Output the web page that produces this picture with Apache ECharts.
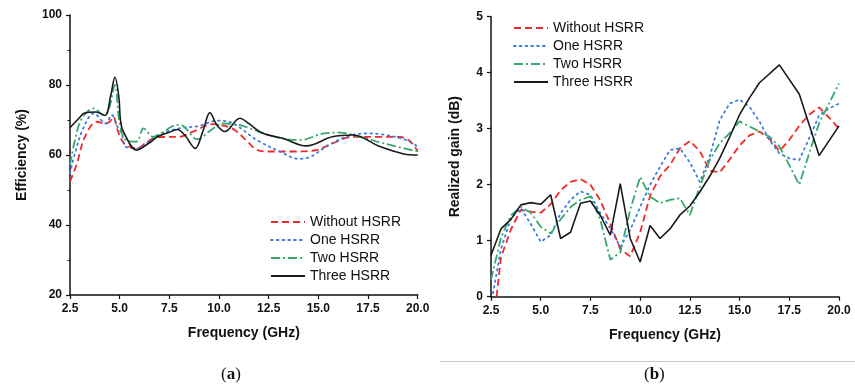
<!DOCTYPE html>
<html>
<head>
<meta charset="utf-8">
<script src="https://cdn.jsdelivr.net/npm/echarts@6/dist/echarts.min.js"></script>
<style>html,body{margin:0;padding:0;background:#fff}#c{width:855px;height:392px}</style>
</head>
<body>
<div id="c"></div>
<script>
// ---------- data ----------
const seriesNames = ['Without HSRR', 'One HSRR', 'Two HSRR', 'Three HSRR'];
const xTicks = [2.5, 5.0, 7.5, 10.0, 12.5, 15.0, 17.5, 20.0];

// (a) Efficiency (%) vs frequency (GHz)
const effWithout = [[2.5,52.4],[2.85,57.6],[3.25,65.2],[3.85,69.5],[4.3,69.0],[4.5,69.5],[4.68,70.9],[4.9,67],[5.1,64.3],[5.3,62.9],[5.85,61.9],[6.4,63.8],[6.9,65.1],[8.0,65.2],[8.7,66.7],[9.7,68.8],[10.3,68.3],[10.8,67.1],[11.4,64],[11.9,61.5],[12.4,61.0],[13.7,61.0],[14.9,61.4],[15.7,63.3],[16.75,65.2],[17.9,65.2],[19.1,65.2],[19.6,64],[20,61.0]];
const effOne = [[2.5,54.8],[2.75,60.5],[3.2,68.1],[3.7,71.9],[4.3,69.0],[4.6,71.4],[4.9,68],[5.1,66.2],[5.3,62.4],[5.85,61.9],[6.9,65.7],[8.0,67.6],[9.0,68.3],[9.9,69.8],[10.6,69.3],[11.9,64.3],[13.06,61.0],[14.0,58.9],[14.6,59.5],[15.4,62.4],[16.4,65.2],[17.4,66.2],[18.4,65.7],[19.4,64.3],[20,62.4]];
const effTwo = [[2.5,57.1],[2.75,64.3],[3.1,70.5],[3.7,73.3],[4.2,71.4],[4.45,73],[4.76,80],[5.0,69.0],[5.3,64.3],[5.85,63.8],[6.2,67.6],[6.7,65.2],[7.9,68.6],[8.2,68.3],[8.9,64.5],[9.7,67.6],[10.2,69.0],[11.0,68.6],[12.0,66.7],[13.1,64.8],[14.1,64.3],[15.3,66.2],[16.1,66.4],[17.1,65.2],[18.3,63.3],[20,61.0]];
const effThree = [[2.5,67.8],[3.0,70.8],[3.2,71.9],[3.8,72.3],[4.26,71.3],[4.55,77],[4.76,82.2],[4.95,77],[5.05,69.5],[5.2,66.5],[5.85,61.4],[6.5,63.5],[6.9,65.2],[7.5,66.5],[7.9,67.3],[8.3,65.5],[8.8,61.9],[9.2,67],[9.54,72.1],[9.9,68.5],[10.3,66.7],[11.05,70.5],[11.5,69],[12.2,66.2],[13.2,64.8],[14.4,62.6],[15.7,65.2],[16.75,65.7],[18.1,62.4],[19.3,60.3],[20,60.0]];

// (b) Realized gain (dB) vs frequency (GHz)
const gainWithout = [[2.78,0],[3.0,0.7],[3.5,1.2],[4.0,1.55],[4.5,1.52],[5.0,1.5],[5.5,1.65],[6.0,1.9],[6.5,2.05],[7.0,2.1],[7.5,2.0],[8.0,1.72],[8.5,1.3],[9.0,0.85],[9.5,0.72],[10.0,1.15],[10.5,1.8],[11.0,2.15],[11.5,2.35],[12.0,2.65],[12.5,2.78],[13.0,2.6],[13.5,2.25],[14.0,2.22],[14.5,2.45],[15.0,2.7],[15.5,2.88],[16.0,2.95],[16.5,2.82],[17.0,2.6],[17.5,2.8],[18.0,3.05],[18.5,3.25],[19.0,3.38],[19.5,3.2],[20.0,3.0]];
const gainOne = [[2.6,0.06],[3.0,0.85],[3.5,1.4],[4.0,1.58],[4.5,1.3],[5.0,0.98],[5.5,1.1],[6.0,1.49],[6.5,1.73],[7.0,1.88],[7.5,1.82],[8.0,1.49],[8.5,1.22],[9.0,0.89],[9.5,1.19],[10.0,1.6],[10.5,2.0],[11.0,2.32],[11.5,2.62],[12.0,2.65],[12.5,2.4],[13.0,2.05],[13.5,2.5],[14.0,3.15],[14.5,3.45],[15.0,3.52],[15.5,3.39],[16.0,3.13],[16.5,2.8],[17.0,2.56],[17.5,2.47],[18.0,2.44],[18.5,2.83],[19.0,3.24],[19.5,3.36],[20.0,3.45]];
const gainTwo = [[2.5,0.3],[3.0,1.05],[3.5,1.45],[4.0,1.6],[4.5,1.5],[5.0,1.25],[5.5,1.13],[6.0,1.38],[6.5,1.6],[7.0,1.73],[7.5,1.79],[8.0,1.37],[8.5,0.66],[9.0,0.79],[9.5,1.55],[10.0,2.14],[10.5,1.79],[11.0,1.67],[11.5,1.73],[12.0,1.76],[12.5,1.46],[13.0,1.96],[13.5,2.44],[14.0,2.74],[14.5,2.92],[15.0,3.13],[15.5,3.04],[16.0,2.95],[16.5,2.86],[17.0,2.68],[17.5,2.35],[18.0,2.0],[18.5,2.56],[19.0,3.1],[19.5,3.45],[20.0,3.81]];
const gainThree = [[2.5,0.74],[3.0,1.21],[3.5,1.38],[4.0,1.64],[4.5,1.68],[5.0,1.65],[5.5,1.82],[6.0,1.04],[6.5,1.15],[7.0,1.67],[7.5,1.71],[8.0,1.45],[8.5,1.1],[9.0,2.02],[9.5,1.04],[10.0,0.62],[10.5,1.27],[11.0,1.04],[11.5,1.21],[12.0,1.46],[12.5,1.62],[13.0,1.87],[13.5,2.15],[14.0,2.47],[14.5,2.85],[15.0,3.25],[15.5,3.55],[16.0,3.82],[17.0,4.14],[18.0,3.62],[19.0,2.52],[20.0,3.05]];

// ---------- styles ----------
const colors = ['#ee2a2a', '#3a7be0', '#35a86b', '#1a1a1a'];
const dashes = [[7,4], [1.6,4.2], [9,3,2,3], 'solid'];
const caps = ['butt', 'round', 'butt', 'butt'];

const chart = echarts.init(document.getElementById('c'), null, {renderer: 'canvas'});
const txt = '#111';
const tickFont = {fontFamily: 'Liberation Sans, Arial, sans-serif', fontWeight: 'bold', fontSize: 12, color: txt};
const titleFont = {fontFamily: 'Liberation Sans, Arial, sans-serif', fontWeight: 'bold', fontSize: 14, color: txt};

function xAxis(gridIndex) {
  return {
    type: 'value', gridIndex, min: 2.5, max: 20, interval: 2.5,
    name: 'Frequency (GHz)', nameLocation: 'middle', nameGap: 31, nameTextStyle: titleFont,
    axisLine: {show: true, onZero: false, lineStyle: {color: txt, width: 1.5}},
    axisTick: {show: true, inside: false, length: 4, lineStyle: {color: txt, width: 1.2}},
    axisLabel: Object.assign({margin: 8, formatter: v => v.toFixed(1)}, tickFont),
    splitLine: {show: false}
  };
}
function series(name, data, i, xi, smooth) {
  return {
    name, type: 'line', xAxisIndex: xi, yAxisIndex: xi, data,
    smooth: smooth, symbol: 'none', showSymbol: false,
    lineStyle: {color: colors[i], width: i === 3 ? 1.6 : 1.8, type: dashes[i], cap: caps[i]},
    itemStyle: {color: colors[i]},
    z: i === 3 ? 3 : 2
  };
}
const legendCommon = {
  orient: 'vertical', itemWidth: 34, itemHeight: 14, itemGap: 4,
  data: seriesNames,
  itemStyle: {opacity: 0, borderWidth: 0},
  textStyle: {fontFamily: 'Liberation Sans, Arial, sans-serif', fontSize: 14, color: txt},
  selectedMode: false
};

const option = {
  animation: false,
  backgroundColor: '#fff',
  grid: [
    {left: 70, top: 15, width: 347.7, height: 280},
    {left: 491, top: 16.7, width: 348, height: 280}
  ],
  xAxis: [xAxis(0), xAxis(1)],
  yAxis: [
    {
      type: 'value', gridIndex: 0, min: 20, max: 100, interval: 20,
      name: 'Efficiency (%)', nameLocation: 'middle', nameGap: 41, nameTextStyle: titleFont,
      axisLine: {show: true, onZero: false, lineStyle: {color: txt, width: 1.5}},
      axisTick: {show: true, inside: false, length: 4, lineStyle: {color: txt, width: 1.2}},
      minorTick: {show: true, splitNumber: 2, length: 2.5, lineStyle: {color: txt, width: 1}},
      axisLabel: Object.assign({margin: 8}, tickFont),
      splitLine: {show: false}
    },
    {
      type: 'value', gridIndex: 1, min: 0, max: 5, interval: 1,
      name: 'Realized gain (dB)', nameLocation: 'middle', nameGap: 29, nameTextStyle: titleFont,
      axisLine: {show: true, onZero: false, lineStyle: {color: txt, width: 1.5}},
      axisTick: {show: true, inside: false, length: 4, lineStyle: {color: txt, width: 1.2}},
      axisLabel: Object.assign({margin: 8}, tickFont),
      splitLine: {show: false}
    }
  ],
  legend: [
    Object.assign({left: 265, top: 210}, legendCommon),
    Object.assign({left: 508, top: 16}, legendCommon)
  ],
  series: [
    series(seriesNames[0], effWithout, 0, 0, 0.35),
    series(seriesNames[1], effOne, 1, 0, 0.35),
    series(seriesNames[2], effTwo, 2, 0, 0.35),
    series(seriesNames[3], effThree, 3, 0, 0.35),
    series(seriesNames[0], gainWithout, 0, 1, false),
    series(seriesNames[1], gainOne, 1, 1, false),
    series(seriesNames[2], gainTwo, 2, 1, false),
    series(seriesNames[3], gainThree, 3, 1, false)
  ],
  graphic: [
    {type: 'line', shape: {x1: 440, y1: 361.5, x2: 855, y2: 361.5}, style: {stroke: '#c8c8c8', lineWidth: 1}},
    {type: 'text', left: 221, top: 366, style: {
      text: '{p|(}{b|a}{p|)}',
      rich: {p: {fontFamily: 'Liberation Serif, DejaVu Serif, serif', fontSize: 17, fill: txt},
             b: {fontFamily: 'Liberation Serif, DejaVu Serif, serif', fontSize: 17, fontWeight: 'bold', fill: txt}}
    }},
    {type: 'text', left: 644, top: 366, style: {
      text: '{p|(}{b|b}{p|)}',
      rich: {p: {fontFamily: 'Liberation Serif, DejaVu Serif, serif', fontSize: 17, fill: txt},
             b: {fontFamily: 'Liberation Serif, DejaVu Serif, serif', fontSize: 17, fontWeight: 'bold', fill: txt}}
    }}
  ]
};
chart.setOption(option);
</script>
</body>
</html>
